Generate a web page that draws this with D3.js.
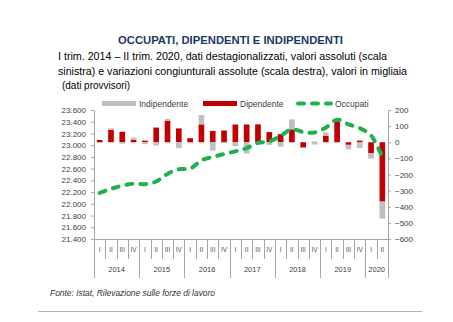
<!DOCTYPE html>
<html><head><meta charset="utf-8">
<script src="https://cdn.jsdelivr.net/npm/d3@7"></script>
<style>
html,body{margin:0;padding:0;background:#fff;}
svg{display:block;}
text{font-family:"Liberation Sans Narrow","Arial Narrow","Liberation Sans",Arial,sans-serif;}
</style></head>
<body>
<svg id="chart" width="453" height="322"></svg>
<script>
const quarterLabels = ["I","II","III","IV","I","II","III","IV","I","II","III","IV","I","II","III","IV","I","II","III","IV","I","II","III","IV","I","II"];
const yearLabels = ["2014","2015","2016","2017","2018","2019","2020"];
const quartersPerYear = [4,4,4,4,4,4,2];
const dipendenti = [14,76,65,14,10,91,134,86,25,111,70,73,110,110,111,63,50,80,-33,3,41,144,-16,10,-68,-368];
const indipendenti = [-3,10,-9,15,-12,-20,11,-37,-3,58,-52,-3,-25,-70,-3,-16,-27,62,-2,-14,20,-3,-28,-35,-33,-105];
const occupati = [22185,22255,22310,22345,22335,22380,22510,22590,22600,22740,22800,22850,22895,22950,23040,23065,23160,23270,23225,23215,23300,23435,23355,23290,23165,22790];
const leftTicks = [21400,21600,21800,22000,22200,22400,22600,22800,23000,23200,23400,23600];
const rightTicks = [-600,-500,-400,-300,-200,-100,0,100,200];

const svg = d3.select("#chart");
const X0 = 94, X1 = 388, YT = 110, YB = 239;
const AXC = "#A6A6A6", TXC = "#404040";
const RED = "#C00000", GRAY = "#BFBFBF", GREEN = "#1EB14E";

const x = d3.scaleBand().domain(d3.range(quarterLabels.length)).range([X0,X1]).paddingInner(0.5).paddingOuter(0.25);
const yL = d3.scaleLinear().domain([21400,23600]).range([YB,YT]);
const yR = d3.scaleLinear().domain([-600,200]).range([YB,YT]);
const it = d3.formatLocale({decimal:",",thousands:".",grouping:[3],currency:["","€"]});
const fmtL = it.format(",");

// title
svg.append("text").attr("x",118).attr("y",44).attr("font-size",11).attr("font-weight","bold")
  .attr("fill","#1F3864").attr("textLength",225).attr("lengthAdjust","spacingAndGlyphs")
  .text("OCCUPATI, DIPENDENTI E INDIPENDENTI");
const sub = [
  {t:"I trim. 2014 – II trim. 2020, dati destagionalizzati, valori assoluti (scala", x:58, w:329},
  {t:"sinistra) e variazioni congiunturali assolute (scala destra), valori in migliaia", x:58, w:349},
  {t:"(dati provvisori)", x:62, w:68}
];
sub.forEach((s,i)=>{
  svg.append("text").attr("x",s.x).attr("y",60+i*14.5).attr("font-size",11).attr("fill","#000")
    .attr("textLength",s.w).attr("lengthAdjust","spacingAndGlyphs").text(s.t);
});

// legend
const lg = svg.append("g");
lg.append("rect").attr("x",102).attr("y",101).attr("width",34).attr("height",5).attr("fill",GRAY);
lg.append("text").attr("x",139).attr("y",106.5).attr("font-size",8.5).attr("fill",TXC).text("Indipendente");
lg.append("rect").attr("x",203).attr("y",101).attr("width",34).attr("height",5).attr("fill",RED);
lg.append("text").attr("x",240).attr("y",106.5).attr("font-size",8.5).attr("fill",TXC).text("Dipendente");
lg.append("line").attr("x1",298).attr("x2",331).attr("y1",103.5).attr("y2",103.5)
  .attr("stroke",GREEN).attr("stroke-width",4).attr("stroke-dasharray","6,8").attr("stroke-linecap","round");
lg.append("text").attr("x",335).attr("y",106.5).attr("font-size",8.5).attr("fill",TXC).text("Occupati");

// bars
const rows = dipendenti.map((d,i)=>({i, dip:d, ind:indipendenti[i]}));
const stack = d3.stack().keys(["dip","ind"]).offset(d3.stackOffsetDiverging);
const series = stack(rows);
const colors = {dip:RED, ind:GRAY};
svg.append("g").selectAll("g").data(series).join("g").attr("fill",s=>colors[s.key])
  .selectAll("rect").data(s=>s).join("rect")
  .attr("x",d=>x(d.data.i)).attr("width",x.bandwidth())
  .attr("y",d=>yR(Math.max(d[0],d[1]))).attr("height",d=>Math.abs(yR(d[0])-yR(d[1])));

// line
const line = d3.line().x((d,i)=>x(i)+x.bandwidth()/2).y(d=>yL(d)).curve(d3.curveCatmullRom.alpha(0.5));
svg.append("path").datum(occupati).attr("d",line).attr("fill","none").attr("stroke",GREEN)
  .attr("stroke-width",4).attr("stroke-dasharray","6,8").attr("stroke-linecap","round");

// left axis
const gl = svg.append("g").attr("transform",`translate(${X0},0)`)
  .call(d3.axisLeft(yL).tickValues(leftTicks).tickFormat(fmtL).tickSize(3).tickPadding(5));
const gr = svg.append("g").attr("transform",`translate(${X1},0)`)
  .call(d3.axisRight(yR).tickValues(rightTicks).tickFormat(d3.format("d")).tickSize(3).tickPadding(4));
[gl,gr].forEach(g=>{
  g.select(".domain").attr("stroke",AXC);
  g.selectAll(".tick line").attr("stroke",AXC);
  g.selectAll(".tick text").attr("font-size",8).attr("fill",TXC).style("font-family","'Liberation Sans',Arial,sans-serif");
});

// category axis
const ca = svg.append("g");
ca.append("line").attr("x1",X0).attr("x2",X1).attr("y1",YB+0.5).attr("y2",YB+0.5).attr("stroke",AXC);
const step = x.step();
quarterLabels.forEach((q,i)=>{
  const cx = x(i)+x.bandwidth()/2;
  ca.append("text").attr("x",cx).attr("y",252).attr("text-anchor","middle").attr("font-size",6.5)
    .attr("fill","#5A4E6E").style("font-family","'Liberation Sans',Arial,sans-serif").text(q);
});
let k = 0;
const bounds = [0];
quartersPerYear.forEach(n=>{k+=n;bounds.push(k);});
d3.range(quarterLabels.length+1).forEach(j=>{
  const bx = Math.round(X0 + j*step)+0.5;
  const isYear = bounds.includes(j);
  ca.append("line").attr("x1",bx).attr("x2",bx).attr("y1",YB).attr("y2",isYear?278:259).attr("stroke",AXC);
});
yearLabels.forEach((yl,i)=>{
  const cx = X0 + (bounds[i]+bounds[i+1])/2*step;
  ca.append("text").attr("x",cx).attr("y",272).attr("text-anchor","middle").attr("font-size",7.5)
    .attr("fill",TXC).style("font-family","'Liberation Sans',Arial,sans-serif").text(yl);
});

// footer
svg.append("text").attr("x",50).attr("y",296).attr("font-size",8.5).attr("font-style","italic")
  .attr("fill","#333").attr("textLength",165).attr("lengthAdjust","spacingAndGlyphs")
  .text("Fonte: Istat, Rilevazione sulle forze di lavoro");
svg.append("line").attr("x1",38).attr("x2",422).attr("y1",311.5).attr("y2",311.5).attr("stroke","#A9B4C2");
</script>
</body></html>
